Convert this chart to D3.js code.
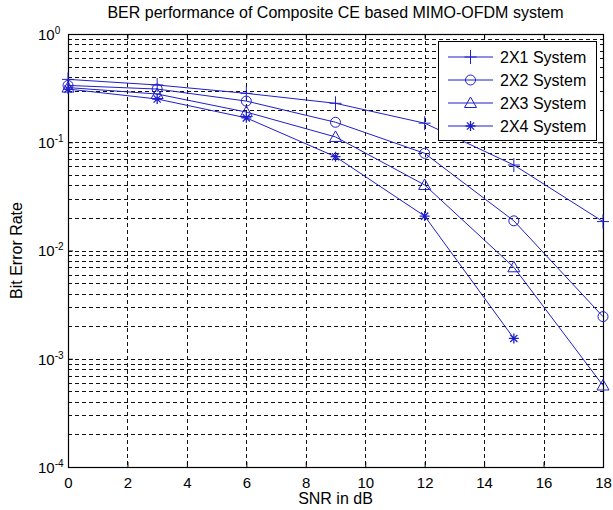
<!DOCTYPE html>
<html><head><meta charset="utf-8">
<script src="https://cdn.jsdelivr.net/npm/d3@7"></script>
<style>
body{margin:0;background:#fff;}
text{font-family:"Liberation Sans",Arial,sans-serif;fill:#000;}
</style></head>
<body><svg id="c" width="613" height="510"></svg>
<script>
// ---- data ----
const snr = [-3, 0, 3, 6, 9, 12, 15, 18];
const snr4 = [-3, 0, 3, 6, 9, 12, 15];
const ber2x1 = [0.43, 0.381, 0.338, 0.283, 0.229, 0.150, 0.0616, 0.0185];
const ber2x2 = [0.36, 0.335, 0.310, 0.240, 0.153, 0.079, 0.0188, 0.00245];
const ber2x3 = [0.37, 0.32, 0.279, 0.190, 0.112, 0.0403, 0.0070, 0.000566];
const ber2x4 = [0.38, 0.31, 0.251, 0.168, 0.0735, 0.0208, 0.00154];
const seriesNames = ["2X1 System", "2X2 System", "2X3 System", "2X4 System"];
const markerTypes = ["plus", "circle", "triangle", "star"];
const xTicks = [0, 2, 4, 6, 8, 10, 12, 14, 16, 18];
const yTickExps = [0, -1, -2, -3, -4];
const titleText = "BER performance of Composite CE based MIMO-OFDM system";
const xLabel = "SNR in dB";
const yLabel = "Bit Error Rate";

const series = [
  {name: seriesNames[0], x: snr, y: ber2x1, m: markerTypes[0]},
  {name: seriesNames[1], x: snr, y: ber2x2, m: markerTypes[1]},
  {name: seriesNames[2], x: snr, y: ber2x3, m: markerTypes[2]},
  {name: seriesNames[3], x: snr4, y: ber2x4, m: markerTypes[3]}
];

const L = 68, R = 603, T = 34, B = 467;
const blue = "#1f1fcc";
const svg = d3.select("#c");
const x = d3.scaleLinear().domain([0, 18]).range([L, R]);
const y = d3.scaleLog().domain([1e-4, 1]).range([B, T]);

svg.append("defs").append("clipPath").attr("id", "clip")
  .append("rect").attr("x", L).attr("y", T).attr("width", R - L).attr("height", B - T);

// grid
const grid = svg.append("g").attr("stroke", "#111").attr("stroke-width", 1).attr("stroke-dasharray", "4,3");
xTicks.slice(1, -1).forEach(t => {
  grid.append("line").attr("x1", Math.round(x(t)) + 0.5).attr("x2", Math.round(x(t)) + 0.5)
    .attr("y1", T).attr("y2", B);
});
const yGridVals = [];
for (let e = -4; e < 0; e++) for (let k = 1; k <= 9; k++) yGridVals.push(k * Math.pow(10, e));
yGridVals.forEach(v => {
  if (v <= 1e-4) return;
  grid.append("line").attr("x1", L).attr("x2", R)
    .attr("y1", Math.round(y(v)) + 0.5).attr("y2", Math.round(y(v)) + 0.5);
});

// axes ticks (inward)
const xa = svg.append("g").attr("transform", `translate(0,${B})`)
  .call(d3.axisBottom(x).tickValues(xTicks).tickSizeInner(-5).tickSizeOuter(0).tickPadding(10).tickFormat(d3.format("d")));
xa.select(".domain").remove();
xa.selectAll("text").attr("font-size", 15).attr("font-family", "Liberation Sans, Arial, sans-serif");
const xt = svg.append("g").attr("transform", `translate(0,${T})`)
  .call(d3.axisTop(x).tickValues(xTicks).tickSizeInner(-5).tickSizeOuter(0).tickFormat(""));
xt.select(".domain").remove();

const yVals = yTickExps.map(e => Math.pow(10, e));
const ya = svg.append("g").attr("transform", `translate(${L},0)`)
  .call(d3.axisLeft(y).tickValues(yVals).tickSizeInner(-5).tickSizeOuter(0).tickPadding(14).tickFormat(""));
ya.select(".domain").remove();
ya.selectAll(".tick").each(function(d, i) {
  const t = d3.select(this).append("text").attr("x", -30).attr("y", 0).attr("dy", "0.35em")
    .attr("text-anchor", "start").attr("font-size", 15).attr("fill", "#000");
  t.append("tspan").text("10");
  t.append("tspan").attr("dy", "-0.6em").attr("font-size", 10).text(String(yTickExps[i]));
});
const yr = svg.append("g").attr("transform", `translate(${R},0)`)
  .call(d3.axisRight(y).tickValues(yVals).tickSizeInner(-5).tickSizeOuter(0).tickFormat(""));
yr.select(".domain").remove();

// box
svg.append("rect").attr("x", L + 0.5).attr("y", T + 0.5).attr("width", R - L).attr("height", B - T)
  .attr("fill", "none").attr("stroke", "#000").attr("stroke-width", 1.2);

// marker drawing
function drawMarker(g, type, cx, cy) {
  if (type === "plus") {
    g.append("path").attr("d", `M${cx - 6},${cy}H${cx + 6}M${cx},${cy - 7}V${cy + 7}`)
      .attr("stroke", blue).attr("fill", "none");
  } else if (type === "circle") {
    g.append("circle").attr("cx", cx).attr("cy", cy).attr("r", 5)
      .attr("stroke", blue).attr("fill", "none");
  } else if (type === "triangle") {
    g.append("path").attr("d", `M${cx},${cy - 6}L${cx + 6},${cy + 4.5}L${cx - 6},${cy + 4.5}Z`)
      .attr("stroke", blue).attr("fill", "none");
  } else {
    const r = 5, d = 3.6;
    g.append("path").attr("d", `M${cx - r},${cy}H${cx + r}M${cx},${cy - r}V${cy + r}M${cx - d},${cy - d}L${cx + d},${cy + d}M${cx - d},${cy + d}L${cx + d},${cy - d}`)
      .attr("stroke", blue).attr("fill", "none").attr("stroke-width", 1.3);
  }
}

const line = d3.line().x(d => x(d[0])).y(d => y(d[1]));
const plot = svg.append("g").attr("clip-path", "url(#clip)");
series.forEach(s => {
  const pts = s.x.map((v, i) => [v, s.y[i]]);
  plot.append("path").datum(pts).attr("d", line).attr("fill", "none").attr("stroke", blue).attr("stroke-width", 1);
});
const marks = svg.append("g");
series.forEach(s => {
  s.x.forEach((v, i) => {
    if (v < 0) return;
    drawMarker(marks, s.m, x(v), y(s.y[i]));
  });
});

// legend
const lg = svg.append("g");
lg.append("rect").attr("x", 438.5).attr("y", 41.5).attr("width", 158).attr("height", 99)
  .attr("fill", "#fff").attr("stroke", "#000").attr("stroke-width", 1);
series.forEach((s, i) => {
  const cy = 57 + i * 23;
  lg.append("line").attr("x1", 448).attr("x2", 493).attr("y1", cy).attr("y2", cy).attr("stroke", blue);
  drawMarker(lg, s.m, 470.5, cy);
  lg.append("text").attr("x", 500).attr("y", cy).attr("dy", "0.36em").attr("font-size", 16).text(s.name);
});

// labels
svg.append("text").attr("x", (L + R) / 2).attr("y", 18).attr("text-anchor", "middle").attr("font-size", 16).text(titleText);
svg.append("text").attr("x", (L + R) / 2).attr("y", 504).attr("text-anchor", "middle").attr("font-size", 16).text(xLabel);
svg.append("text").attr("transform", `translate(22,${(T + B) / 2}) rotate(-90)`).attr("text-anchor", "middle").attr("font-size", 16).text(yLabel);
</script></body></html>
